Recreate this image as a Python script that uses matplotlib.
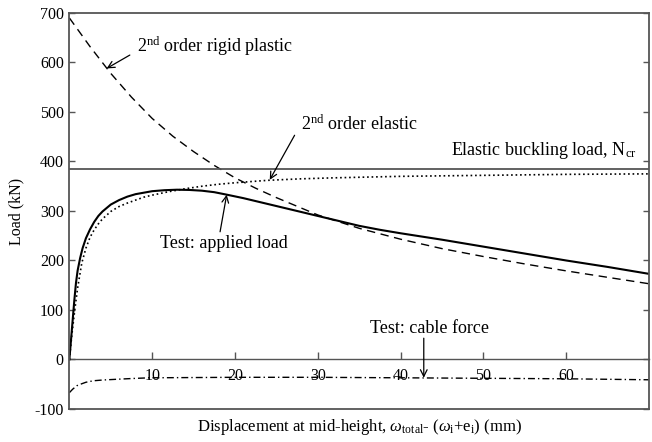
import matplotlib
matplotlib.use("Agg")
import matplotlib.pyplot as plt

plt.rcParams["font.family"] = ["Liberation Serif", "DejaVu Serif"]
plt.rcParams["mathtext.fontset"] = "custom"
plt.rcParams["mathtext.rm"] = "Liberation Serif"
plt.rcParams["mathtext.it"] = "Liberation Serif:italic"
plt.rcParams["axes.unicode_minus"] = False
plt.rcParams["font.size"] = 13

# Measured load-displacement response (mm, kN)
test_x = [0, 0.2, 0.4, 0.6, 0.8, 1.0, 1.3, 1.6, 2.0, 2.5, 3.0, 3.5, 4.0, 5.0, 6.0, 7.0,
          8.0, 9.0, 10, 11.5, 13, 14.5, 16, 17.5, 19, 21, 23, 25, 27.5, 30, 32.5, 35,
          37.5, 40, 45, 50, 55, 60, 65, 70]
test_load = [0, 40, 80, 120, 155, 180, 205, 225, 245, 263, 278, 290, 299, 313, 322, 329,
             334, 337, 340, 342, 343, 342.5, 341, 338, 333, 326, 318, 310, 300, 290, 280, 270,
             262, 255, 242, 228, 214, 200, 187, 173]

# Second-order elastic prediction
elastic_x = [0, 0.3, 0.65, 1.0, 1.5, 2.0, 2.5, 3.0, 3.5, 4.0, 5.0, 6.0, 7.0, 8.0, 9.0, 10,
             12, 14, 16, 18, 20, 24, 28, 32, 40, 50, 60, 70]
elastic_load = [0, 50, 100, 145, 195, 225, 247, 262, 274, 284, 299, 309, 316, 322, 328, 332,
                339, 345, 350, 354, 357, 362, 365, 367, 370, 372, 374, 375]

# Second-order rigid plastic prediction
plastic_x = [0, 2.5, 5, 7.5, 10, 12.5, 15, 17.5, 20, 22.5, 25, 30, 35, 40, 45, 50, 55, 60,
             65, 70]
plastic_load = [690, 632, 578, 530, 487, 451, 420, 392, 367, 346, 327, 292, 265, 243, 224,
                208, 193, 179, 166, 153]

# Measured cable force
cable_x = [0, 0.4, 0.9, 1.5, 2.0, 2.9, 4, 5.7, 7.5, 9.7, 15, 20, 30, 40, 50, 60, 70]
cable_force = [-67, -60, -53, -49, -46, -43, -41.5, -40, -38.5, -37, -36.5, -36, -36, -37,
               -38, -39, -41]

n_cr = 385
x_ticks = [10, 20, 30, 40, 50, 60]
y_ticks = [-100, 0, 100, 200, 300, 400, 500, 600, 700]
x_lim = (0, 70)
y_lim = (-100, 700)

spine_col = "#555555"

fig = plt.figure(figsize=(6.52, 4.42), dpi=100)
ax = fig.add_axes([0.1064, 0.0747, 0.8890, 0.8959])

ax.plot(plastic_x, plastic_load, color="black", lw=1.0, linestyle=(0, (6, 4)))
ax.plot(elastic_x, elastic_load, color="black", lw=1.2, linestyle=(0, (1, 1.7)))
ax.plot(test_x, test_load, color="black", lw=1.5)
ax.plot(cable_x, cable_force, color="black", lw=1.0, linestyle=(0, (5, 2.2, 1, 2.2)))
ax.axhline(n_cr, color=spine_col, lw=1.3)

ax.set_xlim(*x_lim)
ax.set_ylim(*y_lim)

for s in ax.spines.values():
    s.set_color(spine_col)
    s.set_linewidth(1.3)

ax.set_yticks(y_ticks)
ax.tick_params(axis="y", direction="in", length=4, width=1, color=spine_col,
               right=True, labelright=False, pad=4, labelsize=11.5)
ax.tick_params(axis="x", bottom=False, labelbottom=False)

# Displacement axis drawn through zero load
zero_pos = (0 - y_lim[0]) / (y_lim[1] - y_lim[0])
sec = ax.secondary_xaxis(zero_pos)
sec.set_xticks(x_ticks)
sec.spines["bottom"].set_color(spine_col)
sec.spines["bottom"].set_linewidth(1.0)
sec.tick_params(direction="in", length=5, width=1, color=spine_col, pad=6, labelsize=11.5)

ax.set_ylabel("Load (kN)", labelpad=7, fontsize=11.5)
ax.set_xlabel(r"Displacement at mid-height, $\omega_{\rm total}$- ($\omega_{\rm i}$+e$_{\rm i}$) (mm)",
              labelpad=6, fontsize=12)

arrow = dict(arrowstyle="->", color="black", lw=0.9, shrinkA=0, shrinkB=0, mutation_scale=12)

ax.text(8.15, 621, r"2$^{\rm nd}$ order rigid plastic", ha="left", va="baseline")
ax.annotate("", xy=(4.5, 588), xytext=(7.3, 615), arrowprops=arrow)

ax.text(28.0, 464, r"2$^{\rm nd}$ order elastic", ha="left", va="baseline")
ax.annotate("", xy=(24.2, 363), xytext=(27.2, 453), arrowprops=arrow)

ax.text(68.5, 413, r"Elastic buckling load, N$_{\rm cr}$", ha="right", va="baseline")

ax.text(10.9, 225, "Test: applied load", ha="left", va="baseline")
ax.annotate("", xy=(19.0, 333), xytext=(18.2, 258), arrowprops=arrow)

ax.text(50.7, 54, "Test: cable force", ha="right", va="baseline")
ax.annotate("", xy=(42.8, -37), xytext=(42.8, 43), arrowprops=arrow)

fig.savefig("out.png", dpi=100)
